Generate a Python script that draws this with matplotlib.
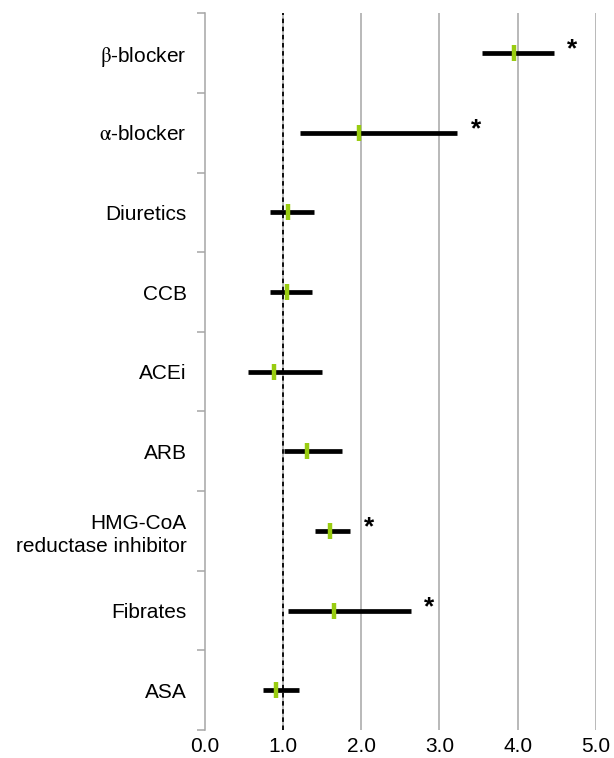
import matplotlib
matplotlib.use("Agg")
import matplotlib.pyplot as plt
from matplotlib.ticker import FixedLocator
import numpy as np

plt.rcParams["font.family"] = ["Liberation Sans", "DejaVu Sans"]
plt.rcParams["mathtext.fontset"] = "stix"

drugs = [r"$\mathrm{\beta}$-blocker", r"$\mathrm{\alpha}$-blocker", "Diuretics", "CCB", "ACEi", "ARB",
         "HMG-CoA\nreductase inhibitor", "Fibrates", "ASA"]
estimate = [3.95, 1.97, 1.07, 1.05, 0.89, 1.31, 1.60, 1.65, 0.91]
ci_low = [3.54, 1.22, 0.84, 0.84, 0.55, 1.01, 1.41, 1.07, 0.75]
ci_high = [4.46, 3.23, 1.40, 1.37, 1.50, 1.75, 1.86, 2.63, 1.20]
significant = [True, True, False, False, False, False, True, True, False]
xticks = [0.0, 1.0, 2.0, 3.0, 4.0, 5.0]

green = "#99CC11"
grid_gray = "#A6A6A6"

fig = plt.figure(figsize=(6.14, 7.58), dpi=100)
ax = fig.add_axes([0.3334, 0.0369, 0.6373, 0.9456])

y = np.arange(len(drugs))

# Gridlines
for xv in xticks[1:]:
    ax.axvline(xv, color=grid_gray, lw=1.1, zorder=0)
ax.axvline(1.0, color="black", lw=1.3, ls=(0, (2.5, 2.0)), zorder=1)

# CI bars and point estimates
ax.hlines(y, ci_low, ci_high, color="black", lw=3.4, zorder=2)
ax.plot(estimate, y, ls="none", marker="|", ms=11, mew=3.2, color=green, zorder=3)

for yi, hi, sig in zip(y, ci_high, significant):
    if sig:
        ax.annotate("*", (hi, yi), xytext=(13.5, 2.5), textcoords="offset points",
                    fontsize=19, fontweight="bold", ha="center", va="center", color="black")

ax.set_xlim(0, 5)
ax.set_ylim(len(drugs) - 0.5, -0.5)

ax.set_xticks(xticks)
ax.set_xticklabels([f"{v:.1f}" for v in xticks], fontsize=15)
ax.tick_params(axis="x", length=0, pad=5)

ax.set_yticks(y)
ax.set_yticklabels(drugs, fontsize=15, linespacing=1.25)
ax.tick_params(axis="y", which="major", length=0, pad=13)
ax.yaxis.set_minor_locator(FixedLocator(np.arange(-0.5, len(drugs), 1.0)))
ax.tick_params(axis="y", which="minor", length=5.5, width=1.1, color=grid_gray)

for side in ["top", "right", "bottom"]:
    ax.spines[side].set_visible(False)
ax.spines["left"].set_color(grid_gray)
ax.spines["left"].set_linewidth(1.1)

plt.savefig("out.png", dpi=100)
